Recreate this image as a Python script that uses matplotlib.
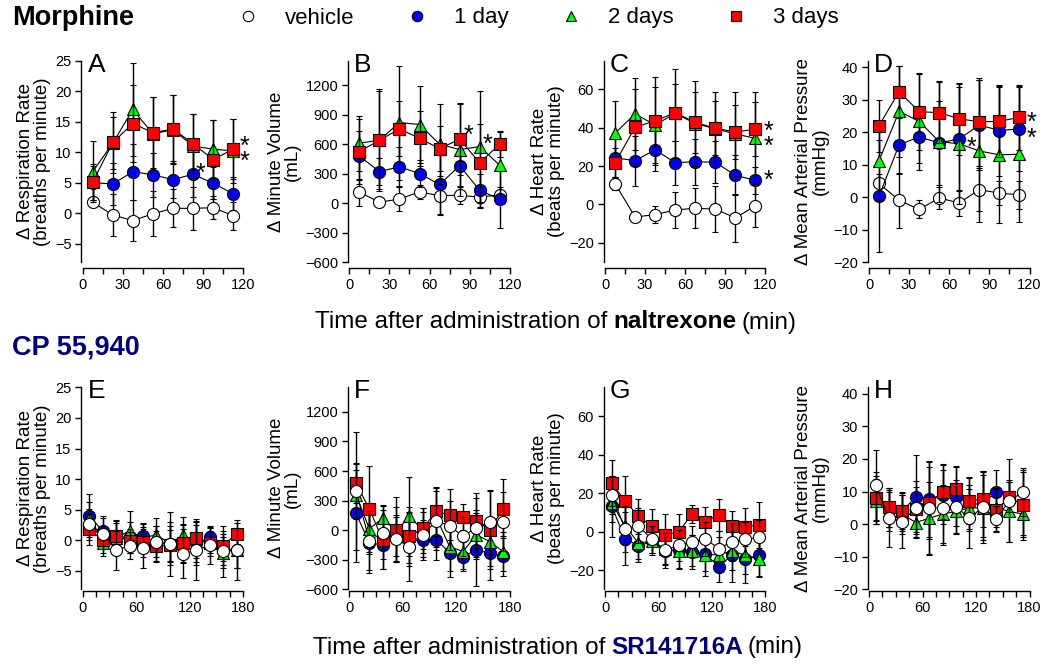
import matplotlib
matplotlib.use("Agg")
import matplotlib.pyplot as plt
from matplotlib.lines import Line2D
from matplotlib.offsetbox import TextArea, HPacker, AnchoredOffsetbox

plt.rcParams['font.family'] = ['Liberation Sans', 'DejaVu Sans']

# ---------------- data ----------------
t_top = [7.5, 22.5, 37.5, 52.5, 67.5, 82.5, 97.5, 112.5]
t_bot = [7.5, 22.5, 37.5, 52.5, 67.5, 82.5, 97.5, 112.5, 127.5, 142.5, 157.5, 172.5]

# A - respiration rate (morphine / naltrexone)
a_veh = [1.8, -0.3, -1.2, -0.1, 0.8, 0.8, 0.9, -0.4]
a_veh_e = [0.8, 3.5, 3.3, 3.7, 3.1, 3.5, 1.9, 2.3]
a_d1 = [5.0, 4.8, 6.8, 6.3, 5.5, 6.4, 4.9, 3.2]
a_d1_e = [2.8, 3.4, 4.6, 3.6, 3.0, 3.8, 2.6, 2.7]
a_d2 = [6.8, 11.5, 17.0, 13.0, 13.7, 11.0, 10.5, 10.2]
a_d2_e = [5.0, 4.3, 7.6, 6.0, 5.7, 5.2, 4.7, 5.2]
a_d3 = [5.1, 11.6, 14.7, 13.2, 13.8, 11.4, 8.8, 10.5]
a_d3_e = [3.0, 5.0, 6.3, 5.8, 5.6, 4.8, 6.4, 4.9]

# B - minute volume
b_veh = [110, 10, 40, 115, 75, 80, 60, 85]
b_veh_e = [140, 30, 120, 70, 200, 90, 110, 80]
b_d1 = [480, 320, 370, 300, 190, 380, 130, 40]
b_d1_e = [250, 140, 200, 140, 300, 220, 170, 290]
b_d2 = [610, 640, 820, 800, 600, 545, 575, 385]
b_d2_e = [280, 520, 580, 390, 410, 470, 570, 340]
b_d3 = [525, 640, 755, 660, 555, 650, 410, 600]
b_d3_e = [330, 500, 280, 280, 230, 360, 400, 130]

# C - heart rate
c_veh = [10.9, -6.5, -5.3, -2.8, -2.0, -2.4, -7.0, -0.7]
c_veh_e = [3.5, 2.0, 4.5, 9.5, 10.5, 12.2, 12.5, 11.0]
c_d1 = [24.3, 22.9, 28.5, 21.8, 22.3, 22.0, 15.2, 12.6]
c_d1_e = [10, 13, 11, 11.5, 12, 11, 10.5, 7]
c_d2 = [37.2, 47.2, 41.5, 47.5, 42.2, 39.5, 36.8, 34.5]
c_d2_e = [17, 19, 20, 23, 22, 19, 22, 24]
c_d3 = [21.7, 40.3, 43.6, 47.9, 42.8, 39.8, 37.8, 39.3]
c_d3_e = [8, 20, 23, 15, 16, 14, 14, 14]

# D - mean arterial pressure
d_veh = [4.2, -1.0, -3.8, -0.3, -1.8, 2.3, 1.2, 0.7]
d_veh_e = [3.0, 8.5, 2.8, 3.5, 4.0, 6.7, 3.7, 4.3]
d_d1 = [0.3, 16.1, 18.5, 16.7, 17.9, 22.2, 20.5, 21.0]
d_d1_e = [17.2, 9.0, 8.0, 13.0, 16.0, 14.0, 14.0, 13.0]
d_d2 = [11.2, 26.4, 23.3, 17.1, 16.4, 14.2, 13.0, 13.2]
d_d2_e = [12, 14, 15, 18.5, 18.5, 22, 21, 21]
d_d3 = [22.0, 32.5, 26.3, 26.0, 24.1, 23.2, 23.3, 24.6]
d_d3_e = [8, 8, 11.7, 9.5, 11, 13.5, 11, 10]

# E - respiration rate (CP 55,940 / SR141716A)
e_veh = [2.6, 1.1, -1.6, -0.9, -1.3, -0.2, -0.6, -2.2, -1.6, -0.8, -1.8, -1.5]
e_veh_e = [2.5, 2.5, 3.2, 2.2, 3.2, 2.5, 5.3, 4.0, 4.8, 3.0, 4.2, 4.9]
e_d1 = [4.0, 1.5, 0.6, 0.5, 0.7, -0.5, -0.6, -0.5, -0.5, 0.5, -1.5, -1.5]
e_d1_e = [3.5, 2.5, 2.5, 2.5, 2.0, 2.8, 3.0, 3.0, 3.5, 1.8, 2.5, 3.0]
e_d2 = [3.7, -0.5, 0.3, 1.6, 0.4, 0.9, -0.5, 0.8, -0.5, 0.0, -2.0, -1.5]
e_d2_e = [2.5, 2.0, 2.5, 3.2, 2.5, 2.8, 3.5, 3.0, 3.0, 2.0, 2.5, 3.0]
e_d3 = [1.8, 0.0, 0.7, -0.1, -0.3, -1.0, -0.8, -0.5, 0.3, -0.5, -0.9, 1.1]
e_d3_e = [2.5, 2.0, 2.6, 2.0, 2.5, 2.5, 2.5, 3.2, 3.2, 2.0, 2.5, 1.7]

# F - minute volume
f_veh = [400, -105, -24, -92, -166, -47, 95, 47, -64, 27, 78, 88]
f_veh_e = [600, 300, 270, 230, 350, 230, 300, 250, 200, 300, 320, 300]
f_d1 = [173, -132, -149, -80, -80, -98, -98, -227, -268, -200, -234, -261]
f_d1_e = [500, 300, 250, 230, 250, 200, 200, 250, 150, 370, 270, 200]
f_d2 = [360, 14, 122, -10, 139, 0, 130, -166, -217, -47, -115, -217]
f_d2_e = [250, 260, 130, 250, 400, 230, 300, 250, 180, 250, 250, 200]
f_d3 = [478, 214, -98, 3, -64, 20, 190, 156, 132, 95, 3, 217]
f_d3_e = [200, 440, 300, 330, 300, 210, 250, 260, 130, 280, 400, 300]

# G - heart rate
g_veh = [19.1, 1.4, 3.1, -4.1, -9.7, -7.1, -5.3, -3.8, -8.8, -5.3, -4.1, -2.9]
g_veh_e = [10, 12, 9, 7, 9, 8, 8, 9, 9, 10, 9, 9]
g_d1 = [13.1, -3.6, -7.6, -5.0, -10.2, -9.7, -10.7, -11.4, -18.3, -12.2, -14.5, -12.2]
g_d1_e = [16, 14, 8, 6, 7, 10, 9, 9, 8, 14, 12, 11]
g_d2 = [15, 3, -6, -5, -9, -10, -10, -12, -12, -10.2, -12.2, -14.5]
g_d2_e = [10, 10, 8, 7, 8, 9, 8, 11, 9, 10, 10, 9]
g_d3 = [25.2, 16.0, 7.9, 2.8, -1.6, -0.3, 9.1, 5.0, 8.8, 2.8, 2.4, 3.6]
g_d3_e = [12, 13, 9, 9, 11, 9.5, 4.5, 8, 8.3, 8, 10, 12]

# H - mean arterial pressure
h_veh = [12.0, 1.8, 0.8, 5.1, 4.9, 5.1, 5.4, 1.8, 5.2, 1.6, 7.2, 9.8]
h_veh_e = [10.8, 8.8, 8, 8, 14.5, 11.5, 8, 9, 11, 4, 12.8, 7.4]
h_d1 = [8, 5, 4, 8.4, 7.6, 9, 8.4, 6.4, 6, 10, 8, 6]
h_d1_e = [8, 6, 6, 12.8, 11.5, 9, 9, 8, 10, 6.5, 5, 10]
h_d2 = [7, 4, 3, 0.5, 1.8, 3.1, 3.9, 5, 5, 5, 3.9, 3.1]
h_d2_e = [7, 6, 6, 4.5, 11, 9, 7, 7, 10, 6, 9.5, 6.5]
h_d3 = [7.9, 5.2, 4.1, 4.5, 6.4, 10.0, 10.7, 7.1, 7.7, 4.4, 8.3, 5.9]
h_d3_e = [7, 6, 5.5, 7, 11, 8.5, 7, 7, 8.5, 6.5, 4.5, 10.8]

# significance asterisks (panel letter, x, y)
stars = [("A", 88, 7.6), ("A", 121, 12.0), ("A", 121, 9.5),
         ("B", 89, 750), ("B", 103, 664),
         ("C", 122.5, 41.5), ("C", 122.5, 33.8), ("C", 122.5, 15.7),
         ("D", 76.7, 17.2), ("D", 121.7, 25.1), ("D", 121.7, 19.9)]

group_labels = ["vehicle", "1 day", "2 days", "3 days"]
ylabels = ["\u0394 Respiration Rate\n(breaths per minute)",
           "\u0394 Minute Volume\n(mL)",
           "\u0394 Heart Rate\n(beats per minute)",
           "\u0394 Mean Arterial Pressure\n(mmHg)"]
yticks = [[-5, 0, 5, 10, 15, 20, 25],
          [-600, -300, 0, 300, 600, 900, 1200],
          [-20, 0, 20, 40, 60],
          [-20, -10, 0, 10, 20, 30, 40]]
ylims = [(-8, 25), (-600, 1450), (-30, 75), (-20, 42)]

# ---------------- style ----------------
markers = ["o", "o", "^", "s"]
fills = ["white", "#0000ff", "#00ff00", "#ff0000"]
msizes = [8.7, 8.7, 9.2, 8.2]
navy = "#000080"

top_panels = [
    ("A", [(a_veh, a_veh_e), (a_d1, a_d1_e), (a_d2, a_d2_e), (a_d3, a_d3_e)]),
    ("B", [(b_veh, b_veh_e), (b_d1, b_d1_e), (b_d2, b_d2_e), (b_d3, b_d3_e)]),
    ("C", [(c_veh, c_veh_e), (c_d1, c_d1_e), (c_d2, c_d2_e), (c_d3, c_d3_e)]),
    ("D", [(d_veh, d_veh_e), (d_d1, d_d1_e), (d_d2, d_d2_e), (d_d3, d_d3_e)]),
]
bot_panels = [
    ("E", [(e_veh, e_veh_e), (e_d1, e_d1_e), (e_d2, e_d2_e), (e_d3, e_d3_e)]),
    ("F", [(f_veh, f_veh_e), (f_d1, f_d1_e), (f_d2, f_d2_e), (f_d3, f_d3_e)]),
    ("G", [(g_veh, g_veh_e), (g_d1, g_d1_e), (g_d2, g_d2_e), (g_d3, g_d3_e)]),
    ("H", [(h_veh, h_veh_e), (h_d1, h_d1_e), (h_d2, h_d2_e), (h_d3, h_d3_e)]),
]

W, H = 1050, 669
fig = plt.figure(figsize=(W / 100, H / 100), dpi=100)

lefts = [82.7, 349.3, 605, 869]
aw = 160.5


def make_axes(left_px, top_px, bottom_px):
    return fig.add_axes([left_px / W, 1 - bottom_px / H, aw / W, (bottom_px - top_px) / H])


def style_axes(ax, i, xmax, xlabel_step, bottom_offset):
    for s in ["top", "right"]:
        ax.spines[s].set_visible(False)
    ax.spines["left"].set_linewidth(1.0)
    ax.spines["bottom"].set_linewidth(1.0)
    ax.spines["bottom"].set_position(("outward", bottom_offset))
    ax.spines["left"].set_position(("outward", 1))
    ax.set_xlim(0, xmax)
    ax.set_ylim(*ylims[i])
    xt = list(range(0, xmax + 1, 15))
    ax.set_xticks(xt)
    ax.set_xticklabels([str(v) if v % xlabel_step == 0 else "" for v in xt])
    ax.set_yticks(yticks[i])
    ax.tick_params(direction="out", length=4.5, width=1.0, labelsize=10.5, pad=2.5)
    ax.set_ylabel(ylabels[i], fontsize=13.5, linespacing=0.95, labelpad=3)


def draw_series(ax, t, series, order):
    for z, k in enumerate(order):
        y, e = series[k]
        ax.errorbar(t, y, yerr=e, fmt="-", color="black", lw=0.8,
                    marker=markers[k], ms=msizes[k], mfc=fills[k], mec="black", mew=0.8,
                    ecolor="black", elinewidth=1.0, capsize=2.2, capthick=1.0,
                    zorder=3 + z, clip_on=False)


top_axes = {}
for i, (letter, series) in enumerate(top_panels):
    ax = make_axes(lefts[i], 60.7, 262)
    style_axes(ax, i, 120, 30, 4.5)
    draw_series(ax, t_top, series, [0, 1, 2, 3])
    ax.text(0.03, 0.945, letter, transform=ax.transAxes, fontsize=19, va="baseline")
    top_axes[letter] = ax

for i, (letter, series) in enumerate(bot_panels):
    ax = make_axes(lefts[i], 387.3, 589.3)
    style_axes(ax, i, 180, 60, 1.5)
    draw_series(ax, t_bot, series, [1, 2, 3, 0])
    ax.text(0.03, 0.947, letter, transform=ax.transAxes, fontsize=19, va="baseline")

for letter, sx, sy in stars:
    top_axes[letter].annotate("*", xy=(sx, sy), xytext=(0, -10), textcoords="offset points",
                              ha="center", va="baseline", fontsize=18,
                              annotation_clip=False, zorder=10)

# headings
fig.text(12 / W, 1 - 18 / H, "Morphine", fontsize=19.5, fontweight="bold", va="center")
fig.text(12 / W, 1 - 348 / H, "CP 55,940", fontsize=19.5, fontweight="bold",
         color=navy, va="center")

# legend
handles = [Line2D([], [], ls="none", marker=markers[k], ms=7.5, mfc=fills[k], mec="black", mew=0.8)
           for k in range(4)]
fig.legend(handles, group_labels, ncol=4, loc="center left",
           bbox_to_anchor=((248 - 11.1) / W, 1 - 18 / H), frameon=False,
           fontsize=16, handlelength=1.0, handletextpad=1.17, columnspacing=2.3,
           borderpad=0, borderaxespad=0)


def mixed_label(parts, y_px, x_px=556):
    boxes = [TextArea(s, textprops=dict(fontsize=17.5, fontweight=w, color=c)) for s, w, c in parts]
    pack = HPacker(children=boxes, align="baseline", pad=0, sep=3.8)
    anchored = AnchoredOffsetbox(loc="center", child=pack, pad=0, borderpad=0, frameon=False,
                                 bbox_to_anchor=(x_px / W, 1 - y_px / H),
                                 bbox_transform=fig.transFigure)
    fig.add_artist(anchored)


mixed_label([("Time after administration of", "normal", "black"),
             ("naltrexone", "bold", "black"),
             ("(min)", "normal", "black")], 322)
mixed_label([("Time after administration of", "normal", "black"),
             ("SR141716A", "bold", navy),
             ("(min)", "normal", "black")], 647, 558)

fig.savefig("out.png", dpi=100)
